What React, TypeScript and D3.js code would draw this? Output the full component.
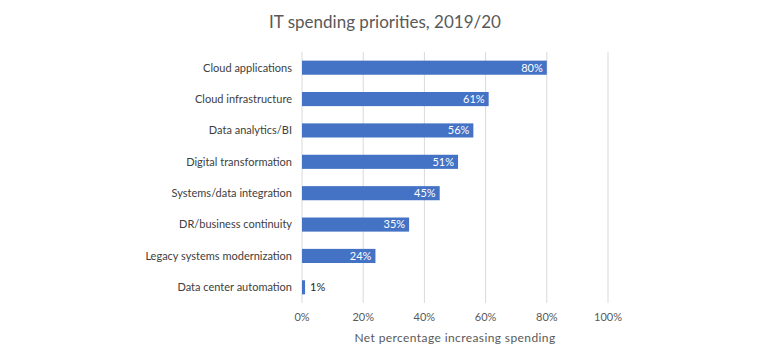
import React, { useEffect, useRef } from 'react';
import * as d3 from 'd3';

const categories = [
  'Cloud applications',
  'Cloud infrastructure',
  'Data analytics/BI',
  'Digital transformation',
  'Systems/data integration',
  'DR/business continuity',
  'Legacy systems modernization',
  'Data center automation',
];
const values = [80, 61, 56, 51, 45, 35, 24, 1];
const ticks = [0, 20, 40, 60, 80, 100];

const App = () => {
  const svgRef = useRef<SVGSVGElement>(null);

  useEffect(() => {
    const svg = d3.select(svgRef.current);
    svg.selectAll('*').remove();
    const width = 770;
    const height = 360;
    const margin = { top: 52, right: 162, bottom: 57, left: 302 };
    const font = 'Lato, "Open Sans", sans-serif';

    const x = d3.scaleLinear().domain([0, 100]).range([margin.left, width - margin.right]);
    const y = d3
      .scaleBand()
      .domain(categories)
      .range([margin.top, height - margin.bottom])
      .paddingInner(0.55)
      .paddingOuter(0.275);

    svg.append('rect').attr('width', width).attr('height', height).attr('fill', '#fff');

    // title
    svg
      .append('text')
      .attr('x', 385)
      .attr('y', 28)
      .attr('text-anchor', 'middle')
      .style('font-family', font)
      .style('font-size', '17px')
      .style('fill', '#595959')
      .text('IT spending priorities, 2019/20');

    // gridlines
    svg
      .append('g')
      .selectAll('line')
      .data(ticks)
      .enter()
      .append('line')
      .attr('x1', (d) => x(d))
      .attr('x2', (d) => x(d))
      .attr('y1', margin.top)
      .attr('y2', height - margin.bottom)
      .attr('stroke', '#d9d9d9')
      .attr('stroke-width', 1);

    // x tick labels
    svg
      .append('g')
      .selectAll('text')
      .data(ticks)
      .enter()
      .append('text')
      .attr('x', (d) => x(d))
      .attr('y', 321)
      .attr('text-anchor', 'middle')
      .style('font-family', font)
      .style('font-size', '11px')
      .style('fill', '#595959')
      .text((d) => `${d}%`);

    // axis title
    svg
      .append('text')
      .attr('x', x(50))
      .attr('y', 342)
      .attr('text-anchor', 'middle')
      .style('font-family', font)
      .style('font-size', '12px')
      .style('letter-spacing', '0.4px')
      .style('fill', '#595959')
      .text('Net percentage increasing spending');

    // category labels
    svg
      .append('g')
      .selectAll('text')
      .data(categories)
      .enter()
      .append('text')
      .attr('x', margin.left - 10)
      .attr('y', (d) => y(d)! + y.bandwidth() / 2)
      .attr('dy', '0.35em')
      .attr('text-anchor', 'end')
      .style('font-family', font)
      .style('font-size', '11px')
      .style('fill', '#404040')
      .text((d) => d);

    // bars
    svg
      .append('g')
      .selectAll('rect')
      .data(values)
      .enter()
      .append('rect')
      .attr('x', x(0))
      .attr('y', (d, i) => y(categories[i])!)
      .attr('width', (d) => x(d) - x(0))
      .attr('height', y.bandwidth())
      .attr('fill', '#4472c4');

    // value labels
    svg
      .append('g')
      .selectAll('text')
      .data(values)
      .enter()
      .append('text')
      .attr('x', (d) => (d < 5 ? x(d) + 5 : x(d) - 4))
      .attr('y', (d, i) => y(categories[i])! + y.bandwidth() / 2)
      .attr('dy', '0.35em')
      .attr('text-anchor', (d) => (d < 5 ? 'start' : 'end'))
      .style('font-family', font)
      .style('font-size', '11px')
      .style('fill', (d) => (d < 5 ? '#262626' : '#fff'))
      .text((d) => `${d}%`);
  }, []);

  return <svg ref={svgRef} width={770} height={360} style={{ display: 'block', margin: '-8px' }}></svg>;
};

export default App;
